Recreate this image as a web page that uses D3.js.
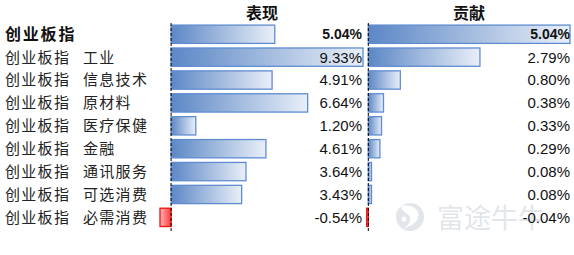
<!DOCTYPE html>
<html>
<head>
<meta charset="utf-8">
<script src="https://cdn.jsdelivr.net/npm/d3@7"></script>
<style>
  html, body { margin: 0; padding: 0; background: #fff; }
  svg { display: block; }
  .lbl { font-family: "Noto Sans CJK SC", sans-serif; fill: #222; }
  .val { font-family: "Liberation Sans", Arial, sans-serif; fill: #111; }
</style>
</head>
<body>
<svg id="chart" width="574" height="255"></svg>
<script>
const prefix = "创业板指";
const sectors = ["", "工业", "信息技术", "原材料", "医疗保健", "金融", "通讯服务", "可选消费", "必需消费"];
const perf = [5.04, 9.33, 4.91, 6.64, 1.20, 4.61, 3.64, 3.43, -0.54];
const contrib = [5.04, 2.79, 0.80, 0.38, 0.33, 0.29, 0.08, 0.08, -0.04];
const titles = ["表现", "贡献"];

const svg = d3.select("#chart");
const defs = svg.append("defs");

function grad(id, c0, c1) {
  const g = defs.append("linearGradient").attr("id", id)
    .attr("x1", 0).attr("y1", 0).attr("x2", 1).attr("y2", 0);
  g.append("stop").attr("offset", "0%").attr("stop-color", c0);
  g.append("stop").attr("offset", "100%").attr("stop-color", c1);
}
grad("gPos", "#5c87c6", "#e9eff8");
grad("gNeg", "#ffb6b6", "#ff3a3a");

const idx = d3.range(sectors.length);
const y = d3.scaleBand().domain(idx).range([22.8, 228.8]).paddingInner(0.2).paddingOuter(0.1);

// watermark, behind everything
const wm = svg.append("g").attr("fill", "#e2e6ea");
wm.append("circle").attr("cx", 410).attr("cy", 217).attr("r", 14);
wm.append("path").attr("fill", "#fff")
  .attr("d", "M401,206 C412,204 421,210 418,218 C416,224 409,226 404,229 C411,223 413,217 406,213 C403,211 401,209 401,206 Z");
wm.append("circle").attr("cx", 404).attr("cy", 219).attr("r", 2.5).attr("fill", "#fff");
wm.append("text").attr("x", 437).attr("y", 228)
  .attr("font-family", "Noto Sans CJK SC, sans-serif").attr("font-size", 27)
  .text("富途牛牛");

const panels = [
  { data: perf, x: d3.scaleLinear().domain([-0.54, 9.33]).range([160, 363]), right: 362, title: titles[0], tx: 262 },
  { data: contrib, x: d3.scaleLinear().domain([0, 5.04]).range([368.3, 570]), right: 570, title: titles[1], tx: 469 }
];

panels.forEach(p => {
  const g = svg.append("g");
  g.selectAll("rect.bar")
    .data(idx)
    .join("rect")
    .attr("class", "bar")
    .attr("x", i => p.x(Math.min(0, p.data[i])))
    .attr("y", i => y(i))
    .attr("width", i => Math.abs(p.x(p.data[i]) - p.x(0)))
    .attr("height", y.bandwidth())
    .attr("fill", i => p.data[i] < 0 ? "url(#gNeg)" : "url(#gPos)")
    .attr("stroke", i => p.data[i] < 0 ? "#ee1111" : "#5f8cd0")
    .attr("stroke-width", 1.3);

  g.append("line")
    .attr("x1", p.x(0)).attr("x2", p.x(0))
    .attr("y1", 23).attr("y2", 232)
    .attr("stroke", "#000").attr("stroke-width", 1)
    .attr("stroke-dasharray", "3,2");

  g.selectAll("text.val")
    .data(idx)
    .join("text")
    .attr("class", "val")
    .attr("x", p.right)
    .attr("y", i => y(i) + y.bandwidth() / 2)
    .attr("dy", "0.36em")
    .attr("text-anchor", "end")
    .attr("font-size", i => i === 0 ? 14 : 15)
    .attr("font-weight", i => i === 0 ? "bold" : "normal")
    .text(i => p.data[i].toFixed(2) + "%");

  g.append("text")
    .attr("class", "lbl")
    .attr("x", p.tx).attr("y", 13)
    .attr("dy", "0.36em")
    .attr("text-anchor", "middle")
    .attr("font-size", 16).attr("font-weight", "bold")
    .style("fill", "#111")
    .text(p.title);
});

// row labels
const lab = svg.append("g");
lab.selectAll("text.pre")
  .data(idx)
  .join("text")
  .attr("class", "lbl pre")
  .attr("x", 5)
  .attr("y", i => y(i) + y.bandwidth() / 2)
  .attr("dy", "0.36em")
  .attr("font-size", i => i === 0 ? 16 : 15)
  .attr("font-weight", i => i === 0 ? "bold" : "normal")
  .attr("letter-spacing", i => i === 0 ? 1.8 : 1.3)
  .style("fill", i => i === 0 ? "#111" : "#222")
  .text(prefix);
lab.selectAll("text.sec")
  .data(idx.filter(i => sectors[i]))
  .join("text")
  .attr("class", "lbl sec")
  .attr("x", 83)
  .attr("y", i => y(i) + y.bandwidth() / 2)
  .attr("dy", "0.36em")
  .attr("font-size", 15)
  .attr("letter-spacing", 1.3)
  .text(i => sectors[i]);
</script>
</body>
</html>
